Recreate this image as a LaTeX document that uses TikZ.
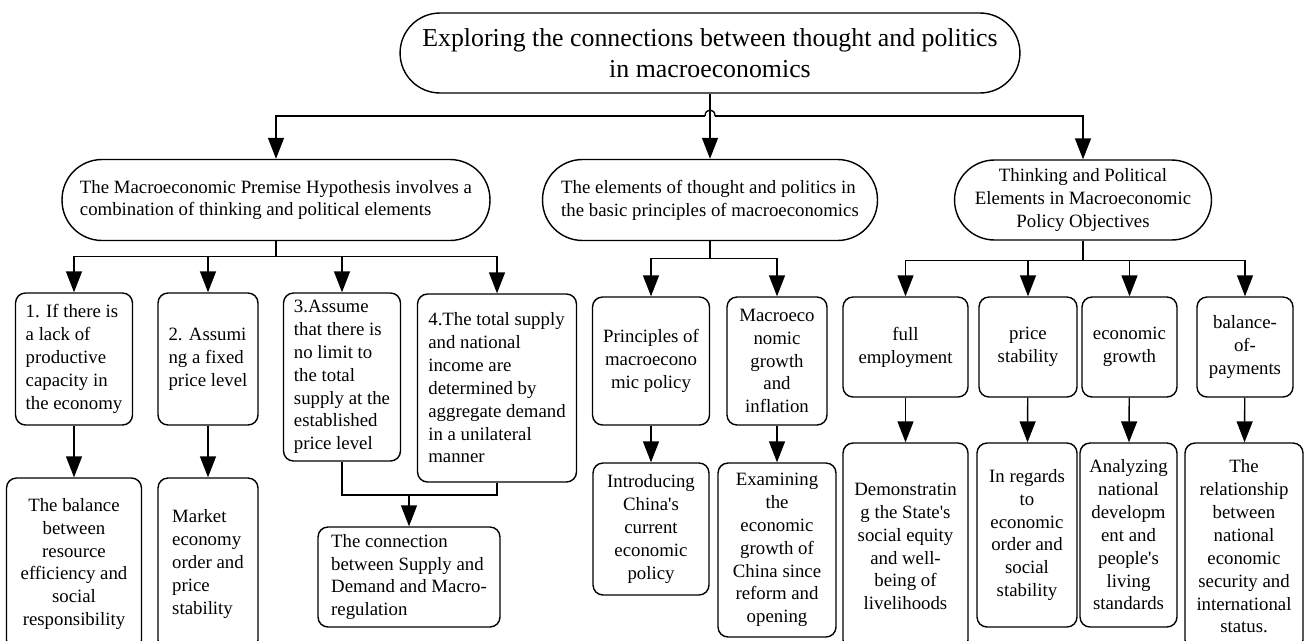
\documentclass[tikz,border=0pt]{standalone}
\usepackage{fontspec}
\setmainfont{Liberation Serif}
\usetikzlibrary{arrows.meta,positioning}

\begin{document}
\begin{tikzpicture}[x=0.02cm, y=-0.02cm, font=\fontsize{10.7}{13}\selectfont]
      % Define block styles
      \tikzstyle{block} = [rectangle, draw, line width=0.8pt, rounded corners=0.2cm, inner sep=2pt, align=center]
      \tikzstyle{topic} = [rectangle, draw, line width=0.8pt, rounded corners=0.8cm, inner sep=2pt, align=center]
      \tikzstyle{line} = [draw, line width=0.8pt, -{Triangle[length=0.42cm, width=0.32cm]}]
      \tikzstyle{joint} = [draw, line width=0.8pt]

      \path[use as bounding box, clip] (0,0) rectangle (1304,640);

      % Place blocks
      \node [topic, minimum width=12.4cm, minimum height=1.6cm, font=\fontsize{14.7}{17.6}\selectfont] (title) at (710,53)
        {Exploring the connections between thought and politics\\in macroeconomics};

      \node [topic, minimum width=8.56cm, minimum height=1.62cm, align=left] (premise) at (276,200)
        {The Macroeconomic Premise Hypothesis involves a\\combination of thinking and political elements};
      \node [topic, minimum width=6.7cm, minimum height=1.62cm, align=left] (basic) at (710,200)
        {The elements of thought and politics in\\the basic principles of macroeconomics};
      \node [topic, minimum width=5.14cm, minimum height=1.6cm] (policy) at (1083,200)
        {Thinking and Political\\Elements in Macroeconomic\\Policy Objectives};

      % premise hypothesis branch
      \node [block, minimum width=2.34cm, minimum height=2.64cm, align=left] (capacity) at (74,359)
        {1. If there is\\a lack of\\productive\\capacity in\\the economy};
      \node [block, minimum width=2.0cm, minimum height=2.64cm, align=left] (fixed) at (208,359)
        {2. Assumi\\ng a fixed\\price level};
      \node [block, minimum width=2.34cm, minimum height=3.36cm, align=left] (nolimit) at (342,377)
        {3.Assume\\that there is\\no limit to\\the total\\supply at the\\established\\price level};
      \node [block, minimum width=3.18cm, minimum height=3.76cm, align=left] (demand) at (497,388)
        {4.The total supply\\and national\\income are\\determined by\\aggregate demand\\in a unilateral\\manner};
      \node [block, minimum width=2.7cm, minimum height=3.44cm] (balance) at (74,564)
        {The balance\\between\\resource\\efficiency and\\social\\responsibility};
      \node [block, minimum width=2.0cm, minimum height=3.44cm, align=left] (market) at (208,564)
        {Market\\economy\\order and\\price\\stability};
      \node [block, minimum width=3.64cm, minimum height=2.0cm, align=left] (regulation) at (409,577)
        {The connection\\between Supply and\\Demand and Macro-\\regulation};

      % basic principles branch
      \node [block, minimum width=2.34cm, minimum height=2.56cm] (principles) at (651,361)
        {Principles of\\macroecono\\mic policy};
      \node [block, minimum width=2.0cm, minimum height=2.56cm] (inflation) at (777,361)
        {Macroeco\\nomic\\growth\\and\\inflation};
      \node [block, minimum width=2.32cm, minimum height=2.64cm] (current) at (651,529)
        {Introducing\\China\textquotesingle s\\current\\economic\\policy};
      \node [block, minimum width=2.36cm, minimum height=3.48cm] (reform) at (777,550)
        {Examining\\the\\economic\\growth of\\China since\\reform and\\opening};

      % policy objectives branch
      \node [block, minimum width=2.5cm, minimum height=2.0cm] (employ) at (905.5,347) {full\\employment};
      \node [block, minimum width=1.96cm, minimum height=2.0cm] (price) at (1028,347) {price\\stability};
      \node [block, minimum width=1.9cm, minimum height=2.0cm] (growth) at (1129.5,347) {economic\\growth};
      \node [block, minimum width=1.92cm, minimum height=2.0cm] (payments) at (1245,347) {balance-\\of-\\payments};
      \node [block, minimum width=2.5cm, minimum height=4.14cm] (equity) at (905.5,546.5)
        {Demonstratin\\g the State\textquotesingle s\\social equity\\and well-\\being of\\livelihoods};
      \node [block, minimum width=2.0cm, minimum height=3.68cm] (order) at (1027,535)
        {In regards\\to\\economic\\order and\\social\\stability};
      \node [block, minimum width=1.94cm, minimum height=3.68cm] (living) at (1128.5,535)
        {Analyzing\\national\\developm\\ent and\\people\textquotesingle s\\living\\standards};
      \node [block, minimum width=2.36cm, minimum height=4.14cm] (security) at (1244,546.5)
        {The\\relationship\\between\\national\\economic\\security and\\international\\status.};

      % Draw lines
      \coordinate (hopL) at (705,116);
      \coordinate (hopR) at (715,116);
      \path [line] (title) -- (basic);
      \draw [joint] (hopL) .. controls +(0,-8) and +(0,-8) .. (hopR);
      \path [line] (hopL) -| (premise);
      \path [line] (hopR) -| (policy);

      \path [line] (premise.south) -- ++(0,15) -| (capacity.north);
      \path [line] (premise.south) -- ++(0,15) -| (fixed.north);
      \path [line] (premise.south) -- ++(0,15) -| (nolimit.north);
      \path [line] (premise.south) -- ++(0,15) -| (demand.north);
      \path [line] (capacity) -- (balance);
      \path [line] (fixed) -- (market);
      \coordinate (merge) at (409,495);
      \draw [joint] (nolimit.south) |- (merge) -| (demand.south);
      \path [line] (merge) -- (regulation);

      \path [line] (basic.south) -- ++(0,17) -| (principles.north);
      \path [line] (basic.south) -- ++(0,17) -| (inflation.north);
      \path [line] (principles) -- (current);
      \path [line] (inflation) -- (reform);

      \path [line] (policy.south) -- ++(0,20) -| (employ.north);
      \path [line] (policy.south) -- ++(0,20) -| (price.north);
      \path [line] (policy.south) -- ++(0,20) -| (growth.north);
      \path [line] (policy.south) -- ++(0,20) -| (payments.north);
      \path [line] (employ) -- (equity);
      \path [line] (price) -- (order);
      \path [line] (growth) -- (living);
      \path [line] (payments) -- (security);
\end{tikzpicture}
\end{document}
